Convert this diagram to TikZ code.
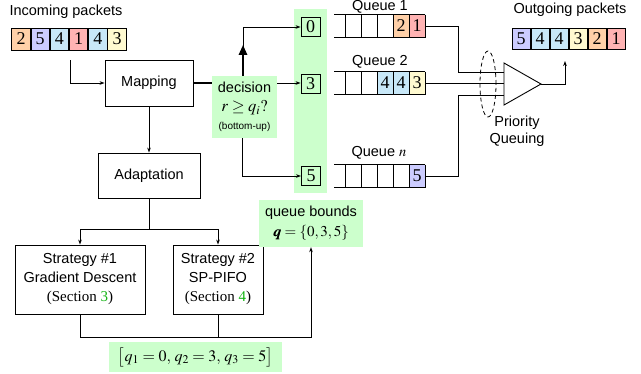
\documentclass[tikz,border=0pt]{standalone}
\usepackage{amsmath}
\usepackage{mathptmx}
\usepackage{bm}
\usepackage{fontspec}
\setmainfont{Liberation Serif}
\setsansfont{Liberation Sans}
\usetikzlibrary{arrows.meta}
\definecolor{cOr}{RGB}{255,208,168}
\definecolor{cPu}{RGB}{204,204,255}
\definecolor{cBl}{RGB}{200,232,248}
\definecolor{cRe}{RGB}{255,179,179}
\definecolor{cYe}{RGB}{255,250,208}
\definecolor{cGr}{RGB}{204,255,204}
\definecolor{cSec}{RGB}{20,180,20}
\tikzset{
  box/.style={draw, line width=0.9pt, align=center, inner sep=0,
    font=\sffamily\fontsize{14.5}{19}\selectfont},
  greenbox/.style={fill=cGr, inner sep=0, align=center},
  conn/.style={line width=0.8pt},
  arr/.style={conn, -{Stealth[length=5pt,width=3.6pt]}},
  pkt/.style={draw, line width=0.8pt, minimum width=18.3pt, minimum height=22pt,
    inner sep=0, font=\fontsize{18}{18}\selectfont},
  cell/.style={inner sep=0, minimum width=16pt, minimum height=23pt,
    font=\fontsize{18}{18}\selectfont},
  idx/.style={draw, line width=0.9pt, minimum width=19pt, minimum height=19pt,
    inner sep=0, font=\fontsize{18}{18}\selectfont},
  lbl/.style={inner sep=0, align=center, font=\sffamily\fontsize{14.5}{17}\selectfont},
  qline/.style={line width=0.9pt}
}
\begin{document}
\begin{tikzpicture}[x=1pt,y=-1pt]
\useasboundingbox (0,0) rectangle (641,373);

% green column
\fill[cGr] (294,9) rectangle (327,193);

% incoming packets
\node[lbl] (tin) at (66,12) {Incoming packets};
\foreach \v/\c [count=\i] in {2/cOr,5/cPu,4/cBl,1/cRe,4/cBl,3/cYe}
  \node[pkt,fill=\c] (in\i) at ({21+19.2*(\i-1)},39) {\v};

% outgoing packets
\node[lbl] (tout) at (570,10) {Outgoing packets};
\foreach \v/\c [count=\i] in {5/cPu,4/cBl,4/cBl,3/cYe,2/cOr,1/cRe}
  \node[pkt,fill=\c,minimum width=18pt,minimum height=21pt] (out\i) at ({521+19*(\i-1)},38.5) {\v};

% main boxes
\node[box, minimum width=88pt, minimum height=46pt] (map) at (149,83) {Mapping};
\node[box, minimum width=102pt, minimum height=45pt] (ad) at (149,175.5) {Adaptation};
\node[box, minimum width=130pt, minimum height=69pt] (s1) at (80,279.5)
  {Strategy \#1\\Gradient Descent\\{\rmfamily\fontsize{15}{19}\selectfont (Section \textcolor{cSec}{3})}};
\node[box, minimum width=90pt, minimum height=69pt] (s2) at (218,279.5)
  {Strategy \#2\\SP-PIFO\\{\rmfamily\fontsize{15}{19}\selectfont (Section \textcolor{cSec}{4})}};

% green labels
\node[greenbox, minimum width=65pt, minimum height=62pt,
  font=\sffamily\fontsize{14.5}{19}\selectfont] (dec) at (244.5,107)
  {decision\\{\fontsize{16.5}{19}\selectfont$r\geq q_i?$}\\[-1pt]{\fontsize{10}{12}\selectfont (bottom-up)}};
\node[greenbox, minimum width=104pt, minimum height=47pt,
  font=\sffamily\fontsize{14.5}{20}\selectfont] (qb) at (311,223.5)
  {queue bounds\\{\fontsize{15}{20}\selectfont$\bm{q}=\{0,3,5\}$}};
\node[greenbox, minimum width=173pt, minimum height=30pt,
  font=\fontsize{16}{18}\selectfont] (ql) at (195.5,357)
  {$\bigl[q_1=0,\,q_2=3,\,q_3=5\bigr]$};

% index boxes
\node[idx] (i0) at (310.5,27) {0};
\node[idx] (i3) at (310.5,84) {3};
\node[idx] (i5) at (311,176) {5};

% queue labels
\node[lbl] (tq1) at (380,7) {Queue 1};
\node[lbl] (tq2) at (380,62) {Queue 2};
\node[lbl] (tq3) at (379,153) {Queue $n$};

% queue coloured cells
\node[cell,fill=cOr] (q1a) at (401,26) {2};
\node[cell,fill=cRe] (q1b) at (417,26) {1};
\node[cell,fill=cBl] (q2a) at (385,83) {4};
\node[cell,fill=cBl] (q2b) at (401,83) {4};
\node[cell,fill=cYe] (q2c) at (417,83) {3};
\node[cell,fill=cPu] (q3a) at (417,176) {5};

% queue outlines
\foreach \y in {26,83,176}{
  \draw[qline] (334,\y-11.5) -- (425,\y-11.5) (334,\y+11.5) -- (425,\y+11.5);
  \foreach \x in {345,361,377,393,409,425}
    \draw[qline] (\x,\y-11.5) -- (\x,\y+11.5);
}

% priority queuing
\coordinate (t1) at (504,72);
\coordinate (t2) at (504,83);
\coordinate (t3) at (504,95);
\coordinate (apex) at (541,84);
\draw[line width=0.9pt] (504,63) -- (apex) -- (504,105) -- cycle;
\draw[conn] (q1b.east) -- (458,26) |- (t1);
\draw[conn] (q2c.east) -- (t2);
\draw[conn] (q3a.east) -- (458,176) |- (t3);
\draw[line width=0.8pt, dash pattern=on 4pt off 3pt] (488,84) ellipse [x radius=8pt, y radius=33pt];
\node[lbl] (tpq) at (517,131) {Priority\\Queuing};
\coordinate (outc) at (565,61);
\draw[arr] (apex) -| (outc);

% incoming to mapping
\coordinate (inc) at (70,60);
\draw[arr] (inc) |- (map.west);

% mapping to decision and queues
\draw[line width=2pt] (map.east) -- (map.east -| dec.west);
\draw[arr] (map.east -| dec.east) -- (map.east -| i3.west);
\draw[arr] ([xshift=-1.5pt]dec.north) |- (i0.west);
\draw[line width=2.8pt, -{Triangle[length=10pt,width=8pt]}] ([xshift=-1.5pt]dec.north) -- ++(0,-31);
\draw[arr] ([xshift=-2.5pt]dec.south) |- (i5.west);

% mapping to adaptation to strategies
\draw[arr] (map) -- (ad);
\coordinate (split) at (149,229);
\draw[conn] (ad.south) -- (split);
\draw[arr] (split) -| (s1.north);
\draw[arr] (split) -| (s2.north);

% strategies to queue bounds
\coordinate (join) at (311,337);
\draw[arr] (s1.south) |- (join) -- (qb.south);
\draw[conn] (s2.south) -- (s2.south |- join);
\end{tikzpicture}
\end{document}
